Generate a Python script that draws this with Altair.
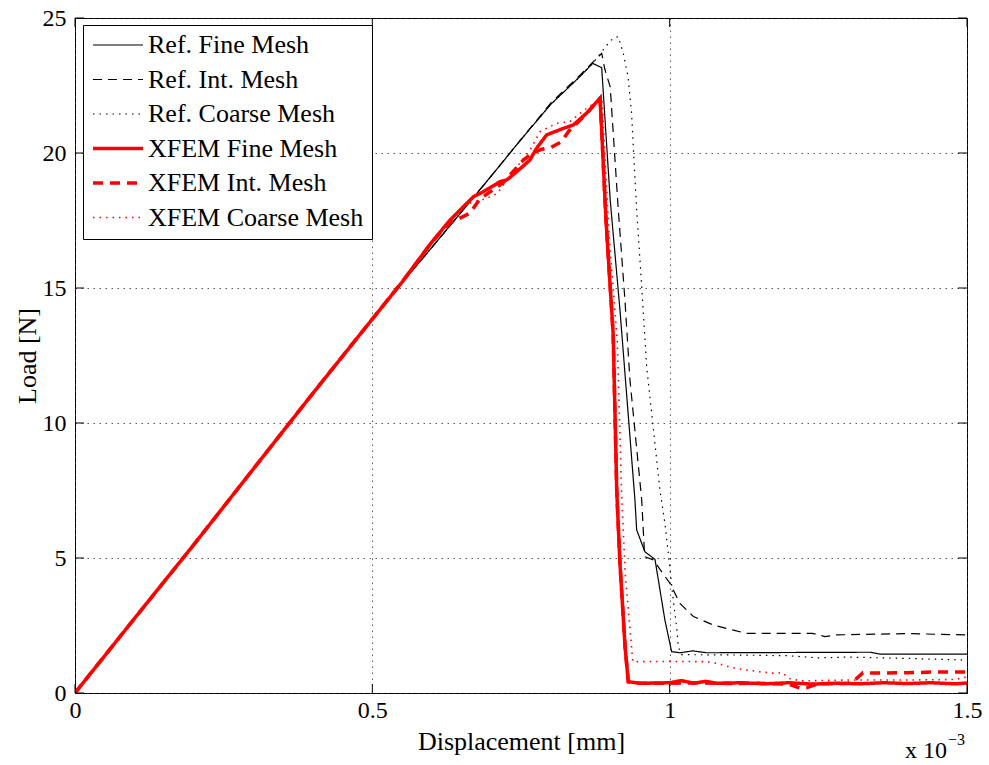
import altair as alt
import pandas as pd

FONT = "Liberation Serif"

SERIES = ["Ref. Fine Mesh", "Ref. Int. Mesh", "Ref. Coarse Mesh",
          "XFEM Fine Mesh", "XFEM Int. Mesh", "XFEM Coarse Mesh"]
COLORS = ["#000000", "#000000", "#000000", "#ff0000", "#ff0000", "#ff0000"]
DASHES = [[1, 0], [9, 6], [1.5, 5], [1, 0], [10, 7], [1.5, 5]]
WIDTHS = [1.2, 1.2, 1.2, 3.5, 3.5, 1.6]

x_ticks = [0, 0.5, 1, 1.5]
y_ticks = [0, 5, 10, 15, 20, 25]

# displacement in units of 1e-3 mm, load in N
ref_fine_x = [0, 0.1, 0.2, 0.3, 0.4, 0.5, 0.55, 0.6, 0.65, 0.7, 0.75, 0.8, 0.85, 0.8705, 0.8857, 0.9,
              0.9164, 0.9416, 0.9445, 0.9584, 0.9753, 0.992, 1.0033, 1.0173, 1.039, 1.062, 1.2, 1.337,
              1.354, 1.5]
ref_fine_y = [0, 2.76, 5.5, 8.3, 11.1, 13.85, 15.2, 16.5, 17.82, 19.15, 20.5, 21.8, 22.85, 23.32, 23.16,
              18.26, 14.19, 7.15, 6.04, 5.23, 4.95, 2.70, 1.53, 1.49, 1.56, 1.49, 1.50, 1.51, 1.44, 1.44]

ref_int_x = [0, 0.1, 0.2, 0.3, 0.4, 0.5, 0.55, 0.6, 0.65, 0.7, 0.75, 0.8, 0.85, 0.8857, 0.891, 0.9,
             0.9136, 0.9248, 0.9332, 0.953, 0.9556, 0.958, 0.9725, 1.0005, 1.0173, 1.04, 1.073, 1.107,
             1.129, 1.174, 1.24, 1.261, 1.28, 1.32, 1.4, 1.5]
ref_int_y = [0, 2.76, 5.5, 8.3, 11.1, 13.85, 15.2, 16.5, 17.82, 19.15, 20.5, 21.85, 22.9, 23.69, 23.1,
             22.45, 17.9, 14.55, 11.6, 7.15, 6.04, 5.05, 4.93, 4.06, 3.32, 2.83, 2.52, 2.33, 2.21, 2.21,
             2.21, 2.09, 2.15, 2.17, 2.2, 2.15]

ref_coarse_x = [0, 0.1, 0.2, 0.3, 0.4, 0.5, 0.55, 0.6, 0.65, 0.7, 0.75, 0.8, 0.85, 0.8705, 0.8967, 0.905,
                0.9136, 0.922, 0.930, 0.936, 0.9388, 0.9445, 0.953, 0.9613, 0.9837, 0.992, 0.9977, 1.006,
                1.0117, 1.0145, 1.02, 1.1, 1.2, 1.25, 1.3, 1.4, 1.5]
ref_coarse_y = [0, 2.76, 5.5, 8.3, 11.1, 13.85, 15.2, 16.5, 17.82, 19.15, 20.5, 21.8, 22.85, 23.32, 24.06,
                24.25, 24.31, 23.69, 22.83, 21.47, 20.23, 17.9, 15.05, 12.09, 7.5, 6.29, 5.17, 3.44, 2.46,
                1.71, 1.42, 1.41, 1.38, 1.30, 1.33, 1.28, 1.22]

xfem_fine_x = [0, 0.1, 0.2, 0.3, 0.4, 0.5, 0.55, 0.6, 0.63, 0.67, 0.687, 0.715, 0.726, 0.743, 0.765,
               0.776, 0.793, 0.821, 0.838, 0.86, 0.883, 0.893, 0.905, 0.911, 0.9164, 0.925, 0.9304, 0.95,
               0.98, 1.0, 1.02, 1.04, 1.06, 1.08, 1.12, 1.16, 1.2, 1.24, 1.28, 1.32, 1.36, 1.4, 1.44, 1.48,
               1.5]
xfem_fine_y = [0, 2.76, 5.5, 8.3, 11.1, 13.85, 15.22, 16.7, 17.5, 18.38, 18.57, 18.94, 19.0, 19.31, 19.74,
               20.17, 20.67, 20.91, 21.04, 21.47, 22.03, 17.5, 13.3, 7.5, 4.8, 1.71, 0.42, 0.36, 0.37,
               0.38, 0.46, 0.36, 0.43, 0.36, 0.38, 0.34, 0.38, 0.33, 0.36, 0.34, 0.38, 0.35, 0.38, 0.34,
               0.37]

xfem_int_x = [0, 0.1, 0.2, 0.3, 0.4, 0.5, 0.55, 0.6, 0.63, 0.664, 0.681, 0.72, 0.754, 0.77, 0.785, 0.8,
              0.818, 0.83, 0.86, 0.883, 0.893, 0.905, 0.911, 0.9164, 0.925, 0.9304, 0.95, 1.0, 1.05, 1.1,
              1.15, 1.2, 1.219, 1.231, 1.25, 1.3, 1.31, 1.325, 1.35, 1.4, 1.45, 1.5]
xfem_int_y = [0, 2.76, 5.5, 8.3, 11.1, 13.85, 15.22, 16.7, 17.4, 17.77, 18.3, 18.9, 19.74, 20.0, 20.14,
              20.2, 20.42, 20.8, 21.45, 22.03, 17.5, 13.3, 7.5, 4.8, 1.71, 0.42, 0.36, 0.36, 0.38, 0.35,
              0.36, 0.33, 0.18, 0.2, 0.34, 0.36, 0.45, 0.75, 0.74, 0.75, 0.78, 0.78]

xfem_coarse_x = [0, 0.1, 0.2, 0.3, 0.4, 0.5, 0.55, 0.6, 0.653, 0.69, 0.71, 0.74, 0.765, 0.782, 0.81,
                 0.832, 0.86, 0.877, 0.886, 0.898, 0.912, 0.919, 0.925, 0.938, 1.0, 1.06, 1.08, 1.1, 1.12,
                 1.15, 1.175, 1.19, 1.2, 1.22, 1.3, 1.4, 1.48, 1.5]
xfem_coarse_y = [0, 2.76, 5.5, 8.3, 11.1, 13.85, 15.22, 16.75, 18.07, 18.3, 18.5, 19.4, 20.1, 20.79, 21.1,
                 21.16, 21.65, 21.9, 22.1, 17.0, 13.0, 7.5, 4.5, 1.16, 1.17, 1.16, 1.1, 0.97, 0.88, 0.79,
                 0.73, 0.75, 0.54, 0.45, 0.48, 0.48, 0.5, 0.6]

all_x = [ref_fine_x, ref_int_x, ref_coarse_x, xfem_fine_x, xfem_int_x, xfem_coarse_x]
all_y = [ref_fine_y, ref_int_y, ref_coarse_y, xfem_fine_y, xfem_int_y, xfem_coarse_y]

rows = []
for name, xs, ys in zip(SERIES, all_x, all_y):
    for i, (xv, yv) in enumerate(zip(xs, ys)):
        rows.append({"series": name, "x": xv, "y": yv, "idx": i})
df = pd.DataFrame(rows)

W, H = 892, 675
xscale = alt.Scale(domain=[0, 1.5], nice=False, zero=False)
yscale = alt.Scale(domain=[0, 25], nice=False, zero=False)

x_axis = alt.Axis(
    values=x_ticks, format="~g", title="Displacement [mm]", grid=True,
    gridDash=[1.5, 4.5], gridColor="#333333", gridOpacity=0.8, gridWidth=1,
    ticks=False, domain=False, labelFont=FONT, labelFontSize=24, labelColor="black",
    labelPadding=5, labelFlush=False, labelOverlap=False,
    titleFont=FONT, titleFontSize=26, titleFontWeight="normal", titleColor="black",
    titleBaseline="alphabetic", titleY=56)
y_axis = alt.Axis(
    values=y_ticks, title="Load [N]", grid=True,
    gridDash=[1.5, 4.5], gridColor="#333333", gridOpacity=0.8, gridWidth=1,
    ticks=False, domain=False, labelFont=FONT, labelFontSize=24, labelColor="black",
    labelPadding=9, labelFlush=False, labelOverlap=False,
    titleFont=FONT, titleFontSize=26, titleFontWeight="normal", titleColor="black",
    titleBaseline="middle", titleX=-48, titleY=H / 2)

legend = alt.Legend(
    orient="none", legendX=8, legendY=7, title=None, symbolType="stroke",
    symbolSize=2500, clipHeight=24, labelFont=FONT, labelFontSize=26, labelColor="black",
    labelOffset=3, strokeColor="black", fillColor="white", padding=8, rowPadding=8.5,
    symbolOpacity=1, labelLimit=400,
)

X = alt.X("x:Q", scale=xscale, axis=x_axis)
Y = alt.Y("y:Q", scale=yscale, axis=y_axis)

lines = alt.Chart(df).mark_line(clip=True).encode(
    x=X, y=Y,
    color=alt.Color("series:N", sort=SERIES,
                    scale=alt.Scale(type="ordinal", domain=SERIES, range=COLORS), legend=legend),
    strokeDash=alt.StrokeDash("series:N", sort=SERIES,
                              scale=alt.Scale(type="ordinal", domain=SERIES, range=DASHES)),
    strokeWidth=alt.StrokeWidth("series:N", sort=SERIES,
                                scale=alt.Scale(type="ordinal", domain=SERIES, range=WIDTHS)),
    order="idx:Q",
)

xt = pd.DataFrame({"x": x_ticks})
yt = pd.DataFrame({"y": y_ticks})
tick_len = 9
bottom_ticks = alt.Chart(xt).mark_rule(color="black", strokeWidth=1).encode(
    x=X, y=alt.value(H), y2=alt.value(H - tick_len))
top_ticks = alt.Chart(xt).mark_rule(color="black", strokeWidth=1).encode(
    x=X, y=alt.value(0), y2=alt.value(tick_len))
left_ticks = alt.Chart(yt).mark_rule(color="black", strokeWidth=1).encode(
    y=Y, x=alt.value(0), x2=alt.value(tick_len))
right_ticks = alt.Chart(yt).mark_rule(color="black", strokeWidth=1).encode(
    y=Y, x=alt.value(W), x2=alt.value(W - tick_len))

exp_base = alt.Chart(pd.DataFrame({"t": ["x 10"]})).mark_text(
    font=FONT, fontSize=24, color="black", align="left", baseline="alphabetic").encode(
    x=alt.value(830), y=alt.value(740), text="t:N")
exp_sup = alt.Chart(pd.DataFrame({"t": ["\u22123"]})).mark_text(
    font=FONT, fontSize=16, color="black", align="left", baseline="alphabetic").encode(
    x=alt.value(873), y=alt.value(727), text="t:N")

chart = alt.layer(
    lines, bottom_ticks, top_ticks, left_ticks, right_ticks, exp_base, exp_sup
).properties(
    width=W, height=H,
    padding={"left": 75, "top": 18, "right": 22, "bottom": 72},
    autosize=alt.AutoSizeParams(type="none"),
    background="white",
).configure_view(stroke="black", strokeWidth=1)

chart.save("out.html", embed_options={"renderer": "svg", "actions": False})
